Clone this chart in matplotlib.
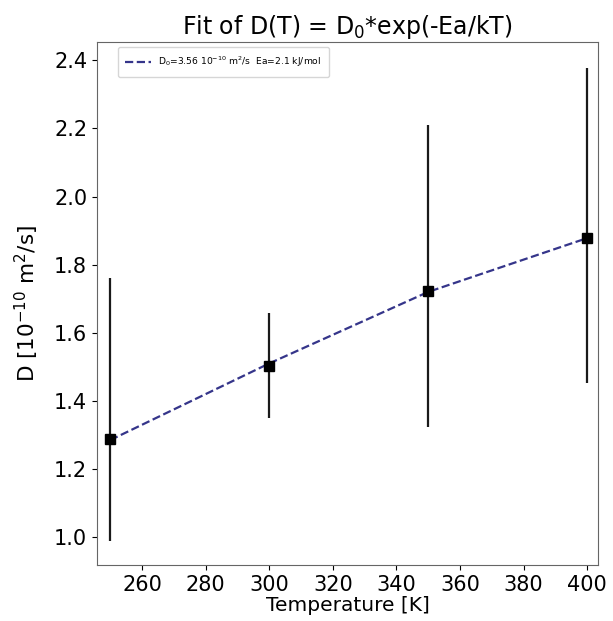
import matplotlib.pyplot as plt
import numpy as np

# Measured diffusion coefficients (units of 1e-10 m^2/s)
T = np.array([250, 300, 350, 400])
D = np.array([1.289, 1.503, 1.722, 1.878])
err_low = np.array([0.30, 0.152, 0.40, 0.425])
err_high = np.array([0.472, 0.155, 0.488, 0.50])

# fitted curve
D_fit = np.array([1.285, 1.51, 1.72, 1.878])

fig = plt.figure(figsize=(6.13, 6.21), dpi=100)
ax = fig.add_axes([0.158, 0.09, 0.818, 0.842])

ax.errorbar(T, D, yerr=[err_low, err_high], fmt='s', color='black',
            ecolor='#1a1a1a', elinewidth=1.6, markersize=6.5, capsize=0, zorder=3)
ax.plot(T, D_fit, '--', color='#35358a', linewidth=1.6,
        label=r'D$_0$=3.56 10$^{-10}$ m$^2$/s  Ea=2.1 kJ/mol')

ax.set_xlim(245.8, 403.5)
ax.set_ylim(0.918, 2.453)
ax.set_xticks(np.arange(260, 401, 20))
ax.set_yticks(np.arange(1.0, 2.41, 0.2))
ax.tick_params(labelsize=15)
for s in ax.spines.values():
    s.set_color('#666666')

ax.set_title(r'Fit of D(T) = D$_0$*exp(-Ea/kT)', fontsize=17)
ax.set_xlabel('Temperature [K]', fontsize=14.5, labelpad=1)
ax.set_ylabel(r'D [10$^{-10}$ m$^2$/s]', fontsize=15.5, labelpad=9)
ax.legend(loc='upper left', bbox_to_anchor=(0.042, 0.99), borderaxespad=0,
          fontsize=6.6, handlelength=2.8, borderpad=0.8)

fig.savefig('out.png', dpi=100)
